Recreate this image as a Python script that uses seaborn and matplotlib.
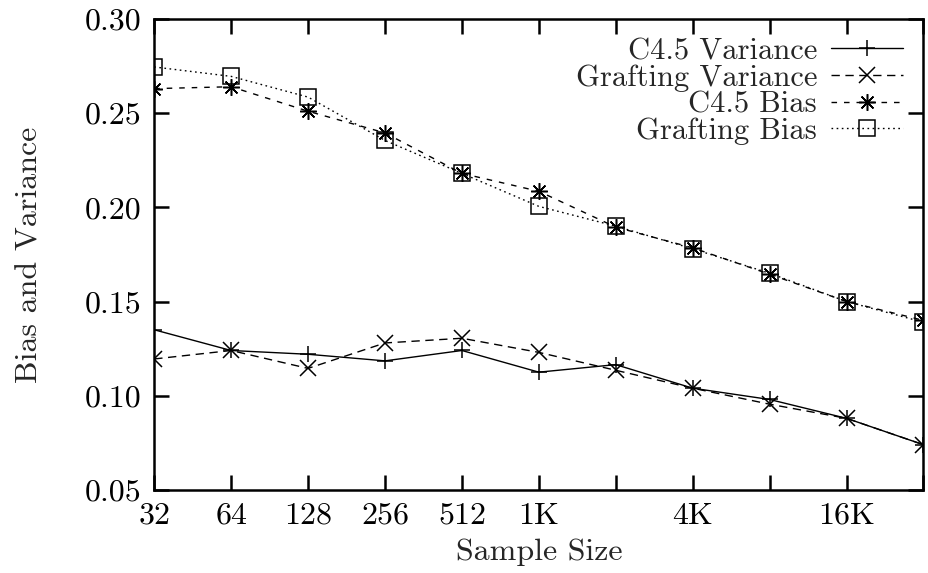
import matplotlib
matplotlib.use("Agg")
import matplotlib.pyplot as plt
import seaborn as sns
import pandas as pd

sns.set_style("ticks")
plt.rcParams["font.family"] = ["cmr10", "DejaVu Serif"]
plt.rcParams["axes.formatter.use_mathtext"] = True

sample_sizes = [32, 64, 128, 256, 512, 1024, 2048, 4096, 8192, 16384, 32768]
tick_labels = ["32", "64", "128", "256", "512", "1K", "", "4K", "", "16K", ""]

c45_variance = [0.135, 0.124, 0.122, 0.1185, 0.124, 0.1125, 0.1165, 0.104, 0.098, 0.088, 0.074]
grafting_variance = [0.1195, 0.124, 0.1145, 0.128, 0.1305, 0.123, 0.1135, 0.104, 0.0955, 0.088, 0.074]
c45_bias = [0.263, 0.264, 0.251, 0.2395, 0.218, 0.2085, 0.1895, 0.1785, 0.1645, 0.150, 0.140]
grafting_bias = [0.2745, 0.2695, 0.2585, 0.2355, 0.218, 0.2005, 0.190, 0.178, 0.165, 0.150, 0.139]

series = [
    ("C4.5 Variance", c45_variance, "+", "-"),
    ("Grafting Variance", grafting_variance, "x", (0, (6, 4))),
    ("C4.5 Bias", c45_bias, (8, 2, 0), (0, (4, 5))),
    ("Grafting Bias", grafting_bias, "s", (0, (1.2, 2.5))),
]

fig = plt.figure(figsize=(9.29, 5.73), dpi=100)
ax = fig.add_axes([0.166, 0.145, 0.828, 0.822])

for name, values, marker, ls in series:
    df = pd.DataFrame({"size": sample_sizes, "value": values})
    sns.lineplot(data=df, x="size", y="value", ax=ax, color="black",
                 linewidth=1.0, linestyle=ls, marker=marker, markersize=12,
                 markerfacecolor="none", markeredgecolor="black",
                 markeredgewidth=1.1, label=name)

ax.set_xscale("log", base=2)
ax.set_xlim(32, 32768)
ax.set_ylim(0.05, 0.30)
ax.set_xticks(sample_sizes)
ax.set_xticklabels(tick_labels)
ax.minorticks_off()
ax.set_yticks([0.05, 0.10, 0.15, 0.20, 0.25, 0.30])
ax.set_yticklabels(["0.05", "0.10", "0.15", "0.20", "0.25", "0.30"])

for side in ["left", "right", "top", "bottom"]:
    ax.spines[side].set_visible(True)
    ax.spines[side].set_linewidth(1.8)
    ax.spines[side].set_color("black")

ax.tick_params(axis="both", which="major", direction="in", length=11,
               width=1.8, top=True, right=True, labelsize=23, colors="black",
               pad=9)

ax.set_xlabel("Sample Size", fontsize=23, labelpad=6)
ax.set_ylabel("Bias and Variance", fontsize=23, labelpad=30)

leg = ax.legend(loc="upper right", bbox_to_anchor=(0.973, 0.96),
                frameon=False, markerfirst=False, fontsize=22,
                handlelength=2.35, handletextpad=0.45, labelspacing=-0.03,
                borderaxespad=0.0, borderpad=0.0)
for t in leg.get_texts():
    t.set_ha("right")
leg._legend_box.align = "right"

fig.savefig("out.png", dpi=100)
